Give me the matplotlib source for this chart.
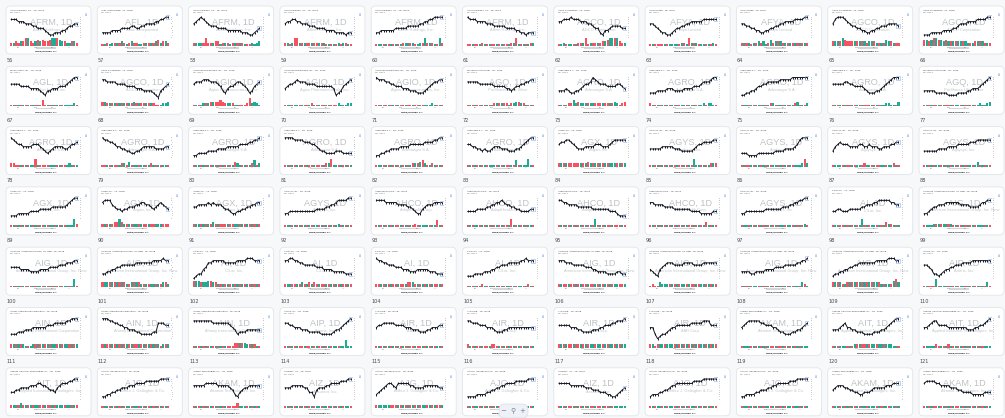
import matplotlib
matplotlib.use("Agg")
import matplotlib.pyplot as plt
from matplotlib.patches import FancyBboxPatch, Rectangle

####################
# data (price level 0-9, volume level 1-9)
numbers = list(range(56, 133))
tickers = ["AFRM", "AFL", "AFRM", "AFRM", "AFRM", "AFRM", "AGCO", "AFYA", "AFYA", "AGCO", "AGCO",
           "AGL", "AGCO", "AGIO", "AGIO", "AGIO", "AGQ", "AGRO", "AGRO", "AGRO", "AGRO", "AGQ",
           "AGRO", "AGRO", "AGRO", "AGRO", "AGRO", "AGRO", "AGX", "AGYS", "AGYS", "AGYS", "AGYS",
           "AGX", "AGX", "AGX", "AGYS", "AHCO", "AHCO", "AHCO", "AHCO", "AGYS", "AI", "AIG",
           "AIG", "AIG", "AI", "AI", "AI", "AI", "AIG", "AIG", "AIG", "AIG", "AIP",
           "AIN", "AIN", "AIN", "AIP", "AIR", "AIR", "AIR", "AIR", "AKAM", "AIT", "AIT",
           "AIT", "AJG", "AKAM", "AIZ", "AJG", "AJG", "AIZ", "AJG", "AJG", "AKAM", "AKAM"]
company = {"AFRM": "Affirm Holdings, Inc.", "AFL": "Aflac Incorporated",
           "AGCO": "AGCO Corporation", "AFYA": "Afya Limited",
           "AGL": "agilon health, inc.", "AGIO": "Agios Pharmaceuticals, Inc.",
           "AGQ": "ProShares Ultra Silver", "AGRO": "Adecoagro S.A.",
           "AGX": "Argan, Inc.", "AGYS": "Agilysys, Inc.", "AHCO": "AdaptHealth Corp.",
           "AI": "C3.ai, Inc.", "AIG": "American International Group, Inc. New",
           "AIP": "Arteris, Inc.", "AIN": "Albany International Corporation",
           "AIR": "AAR Corp.", "AKAM": "Akamai Technologies, Inc.",
           "AIT": "Applied Industrial Technologies, Inc.",
           "AJG": "Arthur J. Gallagher & Co.", "AIZ": "Assurant, Inc."}
prices = [
    "8887776665544432112223345566", "2222333344445544556666778899", "6789876555444433333322211234",
    "6778877666555444433332222122", "2233333344444555556677889999", "9888777766655555444433221222",
    "7788898887776654421334555544", "6654322112344556677777888888", "6655443322334455667777888899",
    "6899987655443322334455566665", "1112222233334456667777888899",
    "6666555544443213344455567899", "8877776666555544433332103456", "6777888777653245567765423567",
    "4566787776666555555541235678", "9888776655544433322234567788", "7777766666655555443455667788",
    "3334322334566798766655556654", "2223333444333344445556777899", "1122334556677777888889999999",
    "6666677665555432223345678999", "3333322222111122223344456789",
    "9876655556665432345555445667", "9887765544332233455555444455", "1122223333444455555666677889",
    "9999888877766543322223332222", "1122334444555566666677778899", "6655443433455544433344567899",
    "6778876544455556665556788888", "4444455555444333334566777788", "2221111222222233334444568999",
    "3567666555566556555445556677", "3333334444555566666777888888",
    "1112222233334444455555567899", "7888654434455566776654567654", "5566667676665443223344556677",
    "2233333333333444455667888899", "8888777776666554322456667777", "3333444455667787665544333344",
    "8877666655555544444443332111", "7766665555444444433332222233", "2233333333444444455566778899",
    "3344333444445566677888887766", "2234556667777776666555567788",
    "5555444433334444555566677788", "2233445566666677777778888988", "0122457788888777778888999888",
    "8899887766666555444433333222", "9887766655544433344444333222", "1112222333445566677777889888",
    "8887776666655544333322223322", "4321456777666677776666777777", "3333223333444455556666677889",
    "1223344556677777778888899988", "6654221234455666777788888888",
    "2223334445555556667777788999", "9998877665544433222223377766", "8888888877777776542333444444",
    "7766555444333332222234456789", "5667777766665554443334455566", "8877766655543334455555555555",
    "6666655544333344455666778889", "5520122345566666677777888666", "5678888877666554332223344567",
    "4445675544333222233344567899", "5567886666555555554445566789",
    "3344555566677665443567778899", "1122334455566677778888889999", "6666677777666665421345566666",
    "5556666655331455566777788899", "2345677657777766555566666655", "1111222233445566777788888999",
    "7777766666655544433322112345", "1222334456677777778888999999", "1122223344455667777788899999",
    "4566655443322333455555666777", "7888877666655544333322222333"]
volumes = [
    "2232337632343433455543322332", "1121222232123221122222342332", "2222252223312221222221112123",
    "2212962222222222211111212211", "1111111111122222112252221152", "1111112111111111112271111122",
    "1121111122261222223345566322", "1111111111111221522211111121", "2222122323124233322222222222",
    "3333543333333323332222433222", "4434654434333333332223333222",
    "1111111111111411111111111121", "3322222222222322222222111223", "1111222333343222211111252321",
    "1111111111121111111111211122", "1111111111111111111111121111", "1111111111122222212233221111",
    "1111224232222222222222232123", "2111111111111111111111212211", "1111111111112211111111231112",
    "1111111111111111111111221113", "1111111111111111111111121123",
    "2211111111611111111111112111", "1111111122131111111121111111", "1111111111111111132111112412",
    "1111111111111111122511111111", "1111111111111112223421121111", "1111111111111111111141111511",
    "2222222222223222222222222222", "1111111111111111115111111222", "1111111111111111111111111252",
    "1111111111111211111111111211", "1111111111111111111111311111",
    "1111111111111111111111111152", "2222233532222222222222222222", "2222222232222222222222222222",
    "1111111111111111111111211111", "1111111111111111211111111411", "1111111111111111116111111111",
    "1111111111111115111111111111", "1111111111111111111111131111", "1111111111111111111111111121",
    "1111111111115111111111322111", "1111222222221111111111111111",
    "1111111111111111111111111151", "3333333333223333222222222332", "4443334433222222222222222222",
    "2222222322323222222222222222", "2222222222222333222222222222", "1111112111111111111111111211",
    "2222222222222222222222222222", "1211322222222222222222222222", "1111111111111111111111111321",
    "3333223333333333333322222453", "1111161111111111111111111131",
    "2222221112222222222222222222", "2222222222222222222222221222", "1111111111111111133333222211",
    "1111111111111111111111111511", "1111111111111111111111111111", "2111111111221111111111111111",
    "2222222222222222222222222222", "2212222222222222222222222222", "1111111111111111111111111111",
    "1111111112222222222222222111", "1111121111211111111111111111",
    "2222322222222222222222222222", "1111111111111111111111111111", "1111111111111111113111111111",
    "1111111111111111111111111111", "2222222222222222222222222222", "1111111111111111111111111111",
    "1111111111111111111111111111", "1111111111111111111111111111", "1111111111111111111111111111",
    "1111111111111111111111111111", "1111111111111111111111111111"]
months = ["Oct", "2024", "Apr", "Jul"]
####################

W, H = 1005, 418
COLS = 11
red, green = "#f7525f", "#22ab94"

fig = plt.figure(figsize=(W / 100, H / 100), dpi=100)
fig.patch.set_facecolor("#f7f8fa")


def box(px, py, pw, ph):
    # pixel box (top-left origin) -> figure fraction rect
    return [px / W, 1 - (py + ph) / H, pw / W, ph / H]


for i, num in enumerate(numbers):
    col, row = i % COLS, i // COLS
    x0 = 6 + col * 91.3
    y0 = 6 + row * 60.3
    tk = tickers[i]
    p = [int(c) for c in prices[i]]
    v = [int(c) for c in volumes[i]]

    # card (kept below the axes)
    card = FancyBboxPatch((x0 / 100, (H - y0 - 48) / 100), 0.85, 0.48,
                          boxstyle="round,pad=0,rounding_size=0.045",
                          transform=fig.dpi_scale_trans, facecolor="white",
                          edgecolor="#e1e4ea", linewidth=0.6, zorder=-5)
    fig.patches.append(card)
    fig.text((x0 + 0.5) / W, 1 - (y0 + 54) / H, str(num), fontsize=3.6,
             color="#4a4a4a", va="center")

    # header + watermark
    fig.text((x0 + 4) / W, 1 - (y0 + 4) / H, company[tk] + " · 1D · NYSE",
             fontsize=1.5, color="#333333", va="center")
    fig.text((x0 + 4) / W, 1 - (y0 + 6.3) / H, "Vol · SMA 9", fontsize=1.3,
             color="#555555", va="center")
    fig.text((x0 + 45) / W, 1 - (y0 + 16) / H, tk + ", 1D", fontsize=6.6,
             color="#bfc1c6", ha="center", va="center", zorder=-1,
             family=["Liberation Sans", "DejaVu Sans"])
    fig.text((x0 + 45) / W, 1 - (y0 + 23.5) / H, company[tk], fontsize=2.9,
             color="#c3c5ca", ha="center", va="center", zorder=-1,
             family=["Liberation Sans", "DejaVu Sans"])
    fig.text((x0 + 80) / W, 1 - (y0 + 9) / H, "A", fontsize=2.2,
             color="#6f9cea", ha="center", va="center")

    # price
    ax = fig.add_axes(box(x0 + 4, y0 + 9, 68, 24))
    ax.set_facecolor("none")
    xs = range(len(p))
    ax.plot(xs, p, color="#131722", linewidth=0.7)
    ax.plot(xs, p, linestyle="none", marker="|", markersize=1.8,
            markeredgewidth=0.7, color="#131722")
    ax.plot(len(p) - 1, p[-1], marker="s", markersize=2.2, mfc="none",
            mec="#8fb3e8", mew=0.4)
    ax.set_xlim(-0.5, len(p) - 0.5)
    ax.set_ylim(-0.8, 10)
    for s in ax.spines.values():
        s.set_visible(False)
    ax.yaxis.tick_right()
    ax.set_yticks(range(0, 10))
    ax.tick_params(axis="y", length=0, labelsize=1.2, labelcolor="#6a6d78", pad=1.5)
    ax.set_xticks([])

    # volume: up bar green, down bar red, unchanged flips colour
    colors = []
    for k in range(len(v)):
        if k > 0 and p[k] > p[k - 1]:
            colors.append(green)
        elif k > 0 and p[k] < p[k - 1]:
            colors.append(red)
        else:
            colors.append(green if colors and colors[-1] == red else red)
    axv = fig.add_axes(box(x0 + 4, y0 + 32, 68, 8))
    axv.set_facecolor("none")
    axv.bar(range(len(v)), v, width=0.85, color=colors, linewidth=0)
    axv.set_xlim(-0.5, len(v) - 0.5)
    axv.set_ylim(0, 5)
    for s in axv.spines.values():
        s.set_visible(False)
    axv.set_yticks([])
    axv.set_xticks([3, 10, 17, 24])
    axv.set_xticklabels(months)
    axv.tick_params(axis="x", length=0, labelsize=1.2, labelcolor="#6a6d78", pad=0.6)

    # range bar and label under the chart
    fig.patches.append(Rectangle(((x0 + 30) / 100, (H - y0 - 42.5) / 100), 0.2, 0.013,
                                 transform=fig.dpi_scale_trans, facecolor="#d3d5da",
                                 edgecolor="none", zorder=-1))
    fig.text((x0 + 40) / W, 1 - (y0 + 45.5) / H, "Hide/Unhide All", fontsize=1.7,
             color="#222222", ha="center", va="center", fontweight="bold")

# zoom control
pill = FancyBboxPatch((4.99, 0.0), 0.29, 0.14, boxstyle="round,pad=0,rounding_size=0.06",
                      transform=fig.dpi_scale_trans, facecolor="#eef1f7",
                      edgecolor="#d9dde6", linewidth=0.5, zorder=5)
fig.patches.append(pill)
for k, ch in enumerate(["−", "⚲", "+"]):
    fig.text((503 + k * 9.5) / W, 1 - 411 / H, ch, fontsize=5, color="#7b8190",
             ha="center", va="center", family=["DejaVu Sans"], zorder=6)

fig.savefig("out.png", dpi=100, facecolor=fig.get_facecolor())
